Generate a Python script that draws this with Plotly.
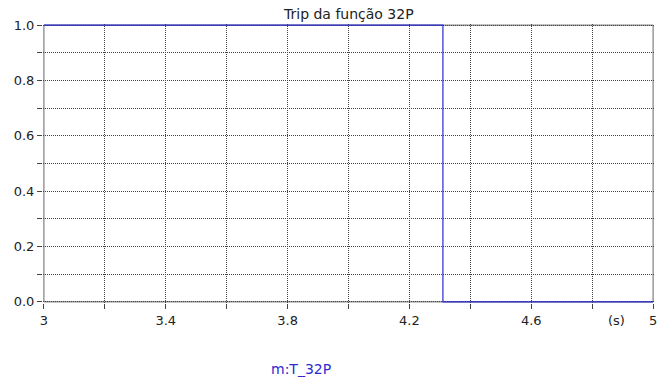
import plotly.graph_objects as go

# Trip signal of the 32P (directional power) function over time
time_s = [3.0, 4.31, 5.0]
trip = [1, 0, 0]

x_tick_vals = [3, 3.4, 3.8, 4.2, 4.6, 5]
x_tick_text = ["3", "3.4", "3.8", "4.2", "4.6", "5"]
y_tick_vals = [0.0, 0.2, 0.4, 0.6, 0.8, 1.0]
y_tick_text = ["0.0", "0.2", "0.4", "0.6", "0.8", "1.0"]

FONT = "Tahoma, Verdana, DejaVu Sans, sans-serif"
BLUE = "#2b2bd0"
GRID = "#444444"
DOTS = "1px,1px"

fig = go.Figure()
fig.add_trace(go.Scatter(
    x=time_s, y=trip, mode="lines", line=dict(color=BLUE, width=1.2, shape="hv"),
    name="m:T_32P", showlegend=False,
))

common = dict(
    ticks="outside", ticklen=5, tickcolor="#444444",
    showline=False, zeroline=False,
    tickfont=dict(family=FONT, size=13, color="#222222"),
    showgrid=True, gridcolor=GRID, griddash=DOTS, gridwidth=1,
)
# ranges padded by about one pixel so the signal drawn on the frame stays visible
fig.update_xaxes(
    range=[2.997, 5.003], tickmode="array", tickvals=x_tick_vals, ticktext=x_tick_text,
    minor=dict(dtick=0.2, tick0=3, ticks="outside", ticklen=5, tickcolor="#444444",
               showgrid=True, gridcolor=GRID, griddash=DOTS),
    **common,
)
fig.update_yaxes(
    range=[-0.004, 1.004], tickmode="array", tickvals=y_tick_vals, ticktext=y_tick_text,
    minor=dict(dtick=0.1, tick0=0, ticks="outside", ticklen=5, tickcolor="#444444",
               showgrid=True, gridcolor=GRID, griddash=DOTS),
    **common,
)

# plot frame, kept under the trace
fig.add_shape(type="rect", xref="x", yref="y", x0=3, x1=5, y0=0, y1=1,
              line=dict(color="#666666", width=1), layer="below")

fig.add_annotation(text="Trip da função 32P", xref="paper", yref="paper",
                   x=0.5, y=1, yanchor="bottom", yshift=0, showarrow=False,
                   font=dict(family=FONT, size=14, color="#222222"))
fig.add_annotation(text="(s)", xref="x", yref="paper", x=4.88, y=0,
                   yanchor="top", yshift=-8, xanchor="center", showarrow=False,
                   font=dict(family=FONT, size=13, color="#222222"))
fig.add_annotation(text="m:T_32P", xref="x", yref="paper", x=3.845, y=0,
                   yanchor="middle", yshift=-66, showarrow=False,
                   font=dict(family=FONT, size=14, color=BLUE))

fig.update_layout(
    width=669, height=379, margin=dict(l=43, r=12, t=24, b=76),
    paper_bgcolor="white", plot_bgcolor="white",
)
fig.write_html("out.html")
